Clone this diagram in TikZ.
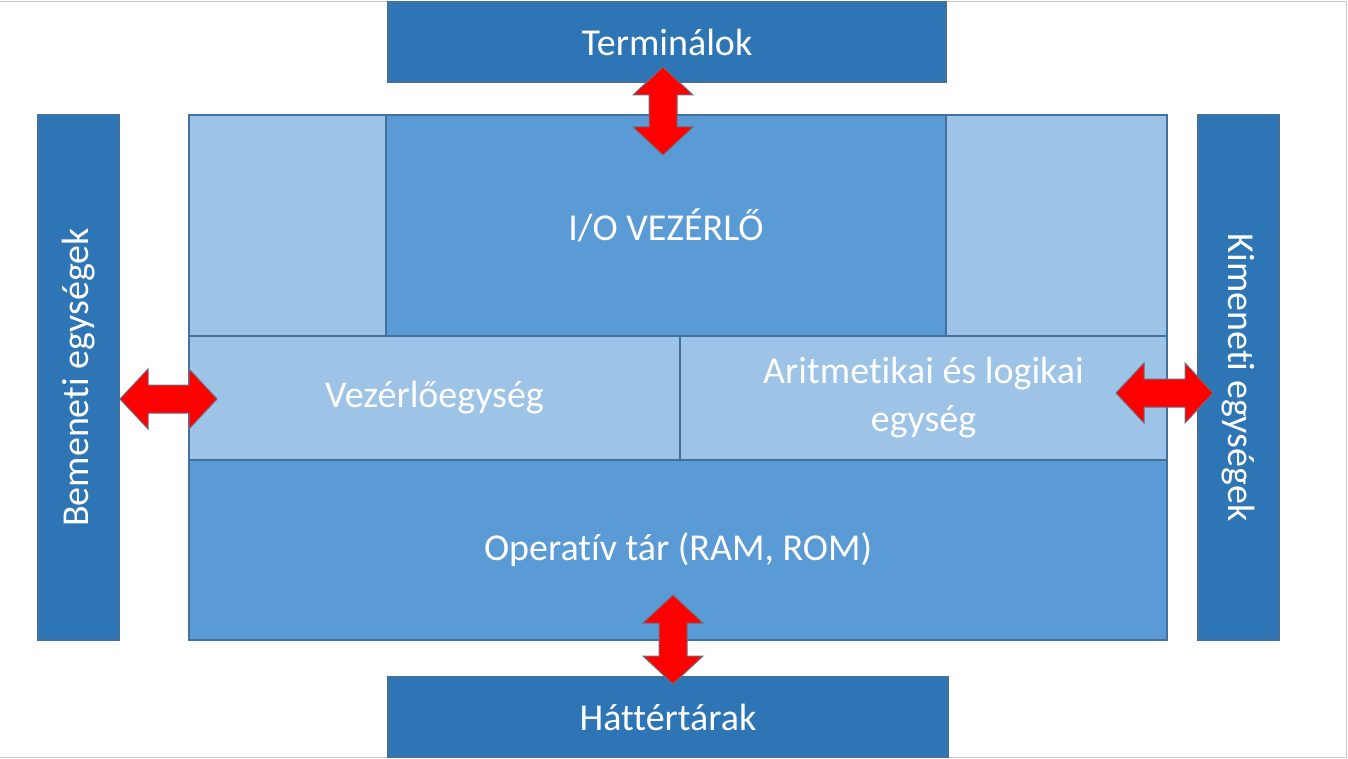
\documentclass[tikz,border=0pt]{standalone}
\usepackage{fontspec}
\setmainfont{Carlito}[RawFeature={-liga;-clig;-calt;-dlig;-rlig}]
\usetikzlibrary{calc}
\definecolor{darkblue}{RGB}{46,117,182}
\definecolor{midblue}{RGB}{91,155,213}
\definecolor{lightblue}{RGB}{157,195,230}
\definecolor{boxline}{RGB}{65,113,156}
\definecolor{arrowline}{RGB}{110,110,125}
\definecolor{framegray}{RGB}{200,200,200}
\begin{document}
\begin{tikzpicture}
        [x=0.5pt,y=-0.5pt,
        boxdecorate/.style={shape=rectangle,draw=boxline,line width=0.7pt,inner sep=0pt,
          text=white,align=center,font=\fontsize{19}{24}\selectfont},%
        arrowdecorate/.style={fill=red,draw=arrowline,line width=0.5pt}]
        \useasboundingbox (0,0) rectangle (1348,759);
        \draw[framegray] (0,1) -- (1346,1) -- (1346,757) -- (0,757);
        %% boxes
        \foreach \nodename/\x/\y/\w/\h/\col/\rot/\txt in {
          term/667/42/558/80/darkblue/0/Terminálok,
          hatt/668/717/560/80/darkblue/0/Háttértárak,
          bem/78.5/377.5/525/81/darkblue/90/Bemeneti egységek,
          kim/1238.5/377.5/525/81/darkblue/-90/Kimeneti egységek,
          tl/287.5/225.5/197/221/lightblue/0/{},
          tr/1056.5/225.5/221/221/lightblue/0/{},
          io/666/225.5/560/221/midblue/0/{I/O VEZÉRLŐ},
          vez/434.5/398/491/124/lightblue/0/Vezérlőegység,
          alu/923.5/398/487/124/lightblue/0/{Aritmetikai és logikai\\egység},
          op/678/550/978/180/midblue/0/{Operatív tár (RAM, ROM)}}
        {
          \node (\nodename) at (\x,\y) [boxdecorate,fill=\col,rotate=\rot,
            minimum width=\w*0.5pt,minimum height=\h*0.5pt] {\txt};
        }
        %% arrow ends
        \coordinate (topA) at (663,67);
        \coordinate (topB) at (663,155);
        \coordinate (botA) at (673,595);
        \coordinate (botB) at (673,684);
        \coordinate (leftA) at (120,399);
        \coordinate (leftB) at (217,399);
        \coordinate (rightA) at (1116,393);
        \coordinate (rightB) at (1213,393);
        %% double arrows
        \foreach \startnode/\endnode in {topA/topB, botA/botB, leftA/leftB, rightA/rightB}
        {
          \coordinate (hs) at ($(\startnode)!14pt!(\endnode)$);
          \coordinate (he) at ($(\endnode)!14pt!(\startnode)$);
          \draw[arrowdecorate] (\startnode) -- ($(hs)!15pt!90:(\endnode)$)
            -- ($(hs)!7pt!90:(\endnode)$) -- ($(he)!7pt!-90:(\startnode)$)
            -- ($(he)!15pt!-90:(\startnode)$) -- (\endnode)
            -- ($(he)!15pt!90:(\startnode)$) -- ($(he)!7pt!90:(\startnode)$)
            -- ($(hs)!7pt!-90:(\endnode)$) -- ($(hs)!15pt!-90:(\endnode)$) -- cycle;
        };
      \end{tikzpicture}
\end{document}
